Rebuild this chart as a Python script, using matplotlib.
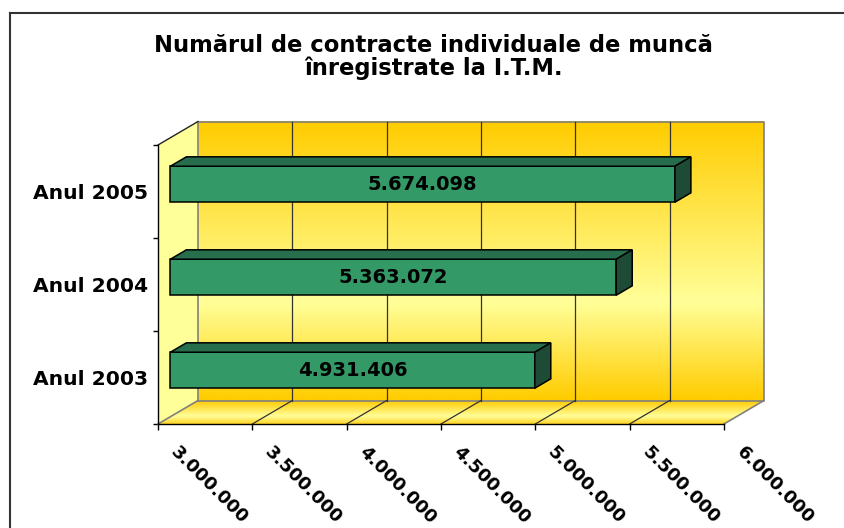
import numpy as np
import matplotlib
matplotlib.use("Agg")
import matplotlib.pyplot as plt
from matplotlib.patches import Polygon
from matplotlib.colors import LinearSegmentedColormap
from matplotlib.lines import Line2D
import matplotlib.transforms as mtransforms

# ---------------- data ----------------
categories = ["Anul 2003", "Anul 2004", "Anul 2005"]
values = [4931406, 5363072, 5674098]
value_labels = ["4.931.406", "5.363.072", "5.674.098"]
xticks = [3000000, 3500000, 4000000, 4500000, 5000000, 5500000, 6000000]
xtick_labels = ["3.000.000", "3.500.000", "4.000.000", "4.500.000",
                "5.000.000", "5.500.000", "6.000.000"]
title = "Numărul de contracte individuale de muncă\nînregistrate la I.T.M."

# ---------------- style ----------------
W, H = 844, 528
GOLD = "#FFCC00"
PALE = "#FFFF99"
GREEN = "#339966"
GREEN_TOP = "#276F4C"
GREEN_SIDE = "#1D4B35"
EDGE_GRAY = "#808080"
GRID = "#333333"

fig = plt.figure(figsize=(W / 100, H / 100), dpi=100)
fig.patch.set_facecolor("white")

# front plane in pixels
L, R, T, B = 158, 724, 145, 424
ax = fig.add_axes([L / W, 1 - B / H, (R - L) / W, (B - T) / H])
xmin, xmax = xticks[0], xticks[-1]
ymin, ymax = -0.5, len(categories) - 0.5
ax.set_facecolor("none")

# 3-D depth offsets in data units
DX = 40 / (R - L) * (xmax - xmin)
DY = 23.5 / (B - T) * (ymax - ymin)

# back wall (gradient)
g = np.linspace(0, 1, 256).reshape(-1, 1)
wall_cmap = LinearSegmentedColormap.from_list(
    "wall", [(0.0, GOLD), (0.35, PALE), (1.0, GOLD)])
ax.imshow(g, cmap=wall_cmap, origin="lower", aspect="auto",
          extent=[xmin + DX, xmax + DX, ymin + DY, ymax + DY],
          interpolation="bilinear", clip_on=False, zorder=0)

# floor (gradient built from thin strips along the depth)
floor_cmap = LinearSegmentedColormap.from_list(
    "floor", [(0.0, "#FFD21A"), (0.35, PALE), (1.0, GOLD)])
NS = 48
for k in range(NS):
    a, b = k / NS, (k + 1) / NS
    col = floor_cmap((k + 0.5) / NS)
    ax.add_patch(Polygon([(xmin + a * DX, ymin + a * DY),
                          (xmax + a * DX, ymin + a * DY),
                          (xmax + b * DX, ymin + b * DY),
                          (xmin + b * DX, ymin + b * DY)], closed=True,
                         facecolor=col, edgecolor=col, lw=0.3,
                         zorder=0.5, clip_on=False))

# side wall
side = Polygon([(xmin, ymin), (xmin + DX, ymin + DY), (xmin + DX, ymax + DY),
                (xmin, ymax)], closed=True, facecolor=PALE, edgecolor="none",
               zorder=1, clip_on=False)
ax.add_patch(side)

# outline edges
kw = dict(color=EDGE_GRAY, lw=1.2, clip_on=False, zorder=2)
ax.plot([xmin + DX, xmax + DX, xmax + DX, xmin + DX, xmin + DX],
        [ymin + DY, ymin + DY, ymax + DY, ymax + DY, ymin + DY], **kw)
ax.plot([xmin, xmin + DX], [ymin, ymin + DY], **kw)
ax.plot([xmax, xmax + DX], [ymin, ymin + DY], **kw)
ax.plot([xmin, xmin + DX], [ymax, ymax + DY], color="#222222", lw=1,
        clip_on=False, zorder=2)

# gridlines on back wall and floor
for v in xticks[1:-1]:
    ax.plot([v + DX, v + DX], [ymin + DY, ymax + DY], color=GRID, lw=0.9,
            clip_on=False, zorder=2)
    ax.plot([v, v + DX], [ymin, ymin + DY], color=GRID, lw=0.9,
            clip_on=False, zorder=2)

# bars
f0, f1 = 0.31, 0.71
bh = 0.387
bdx, bdy = (f1 - f0) * DX, (f1 - f0) * DY
ypos = np.arange(len(categories)) + f0 * DY
x0 = xmin + f0 * DX
ax.barh(ypos, np.array(values) - xmin, left=x0, height=bh, color=GREEN,
        edgecolor="black", linewidth=1.1, zorder=5, clip_on=False)
for yc, v, lab in zip(ypos, values, value_labels):
    x1 = v + f0 * DX
    yt, yb = yc + bh / 2, yc - bh / 2
    ax.add_patch(Polygon([(x0, yt), (x1, yt), (x1 + bdx, yt + bdy),
                          (x0 + bdx, yt + bdy)], closed=True,
                         facecolor=GREEN_TOP, edgecolor="black", lw=1.1,
                         zorder=5, clip_on=False))
    ax.add_patch(Polygon([(x1, yb), (x1 + bdx, yb + bdy), (x1 + bdx, yt + bdy),
                          (x1, yt)], closed=True, facecolor=GREEN_SIDE,
                         edgecolor="black", lw=1.1, zorder=5, clip_on=False))
    ax.text((x0 + x1) / 2, yc, lab, ha="center", va="center",
            fontsize=14, fontweight="bold", color="black", zorder=6)

ax.set_xlim(xmin, xmax)
ax.set_ylim(ymin, ymax)

# spines & ticks
for s in ["top", "right"]:
    ax.spines[s].set_visible(False)
for s in ["left", "bottom"]:
    ax.spines[s].set_color("black")
    ax.spines[s].set_linewidth(1.0)
    ax.spines[s].set_zorder(3)

ax.set_yticks(np.arange(ymin, ymax + 0.01, 1.0))
ax.set_yticklabels([])
ax.set_yticks(np.arange(len(categories)), categories, minor=True)
ax.tick_params(axis="y", which="major", direction="out", length=3.6, width=1)
ax.tick_params(axis="y", which="minor", length=0, pad=7)
for t in ax.get_yticklabels(minor=True):
    t.set_fontsize(14.6)
    t.set_fontweight("bold")

ax.set_xticks(xticks)
ax.set_xticklabels([])
ax.tick_params(axis="x", which="major", direction="out", length=4.3, width=1)

off = mtransforms.ScaledTranslation(15 / 100, -25 / 100, fig.dpi_scale_trans)
for v, lab in zip(xticks, xtick_labels):
    ax.text(v, ymin, lab, rotation=-45, rotation_mode="anchor",
            ha="left", va="center", fontsize=13, fontweight="bold",
            transform=ax.transData + off, clip_on=False)

# title
fig.text(433.5 / W, 1 - 34 / H, title, ha="center", va="top",
         fontsize=16.3, fontweight="bold", linespacing=0.98)

# chart border (partially visible)
fig.add_artist(Line2D([10 / W, 10 / W], [0, 1 - 12.5 / H], color="#333333",
                      lw=1.5, transform=fig.transFigure))
fig.add_artist(Line2D([10 / W, 1], [1 - 12.5 / H, 1 - 12.5 / H],
                      color="#333333", lw=1.5, transform=fig.transFigure))

fig.savefig("out.png", dpi=100)
